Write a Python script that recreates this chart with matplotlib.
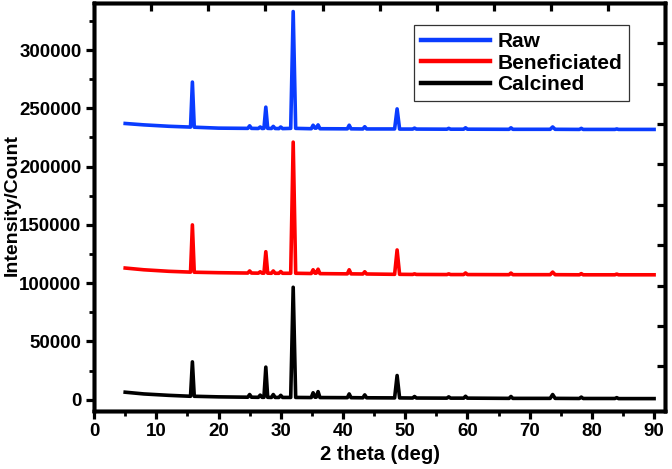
import matplotlib
matplotlib.use("Agg")
import matplotlib.pyplot as plt
from matplotlib.ticker import MultipleLocator, NullFormatter, FixedLocator
from matplotlib.legend_handler import HandlerLine2D

plt.rcParams['font.family'] = ['Liberation Sans', 'DejaVu Sans']
plt.rcParams['font.weight'] = 'bold'

two_theta = [5, 8, 12, 15.5, 15.8, 16.1, 20,
             24.7, 25.0, 25.3, 26.4, 26.7, 27.0, 27.3, 27.6, 27.9,
             28.5, 28.8, 29.1, 29.7, 30.0, 30.3, 31.6, 32.0, 32.4,
             34.9, 35.2, 35.5, 35.7, 36.0, 36.3, 40.7, 41.0, 41.3,
             43.2, 43.5, 43.8, 48.3, 48.7, 49.1, 51.2, 51.5, 51.8,
             56.7, 57.0, 57.3, 59.4, 59.7, 60.0, 66.7, 67.0, 67.3,
             73.3, 73.7, 74.1, 78.0, 78.3, 78.6, 83.7, 84.0, 84.3, 90]

raw = [237000, 235800, 234600, 233900, 272500, 233800, 233000,
       232800, 235000, 232800, 232700, 234000, 232700, 232800, 251000, 232800,
       232700, 234500, 232700, 232600, 234000, 232600, 232800, 333000, 232800,
       232500, 235500, 233000, 233000, 235800, 232500, 232400, 235500, 232400,
       232300, 234200, 232300, 232300, 249500, 232200, 232200, 233000, 232200,
       232100, 232800, 232100, 232100, 233300, 232100, 232000, 233300, 232000,
       232000, 234000, 232000, 231900, 232800, 231900, 231900, 232300, 231900, 231900]

beneficiated = [113000, 111500, 110200, 109500, 150000, 109400, 109000,
                108700, 110500, 108700, 108600, 109800, 108600, 108600, 127000, 108600,
                108500, 110500, 108500, 108500, 110000, 108500, 108500, 221000, 108500,
                108300, 111500, 108600, 108600, 112000, 108200, 108000, 111500, 108000,
                107900, 109800, 107900, 107600, 128500, 107600, 107500, 108000, 107500,
                107400, 108000, 107400, 107400, 108800, 107400, 107300, 108700, 107300,
                107300, 109500, 107300, 107200, 108200, 107200, 107200, 107800, 107200, 107200]

calcined = [6500, 5000, 3800, 3000, 32500, 3000, 2500,
            2200, 4500, 2200, 2100, 4000, 2100, 2100, 28000, 2100,
            2000, 4500, 2000, 2000, 3800, 2000, 2000, 96500, 2000,
            1900, 6000, 2200, 2200, 7000, 1900, 1800, 5000, 1800,
            1700, 4200, 1700, 1600, 20800, 1600, 1500, 2800, 1500,
            1400, 2500, 1400, 1400, 3000, 1400, 1200, 2800, 1200,
            1200, 4500, 1200, 1100, 2300, 1100, 1100, 1800, 1000, 1000]

series_labels = ["Raw", "Beneficiated", "Calcined"]
series_colors = ["#0a3cff", "#ff0000", "#000000"]


class ShiftedLine(HandlerLine2D):
    """Legend line that leaves blank space on its left, like Origin legends."""
    def create_artists(self, legend, orig_handle, xdescent, ydescent,
                       width, height, fontsize, trans):
        arts = super().create_artists(legend, orig_handle, xdescent, ydescent,
                                      width, height, fontsize, trans)
        for a in arts:
            xd = a.get_xdata()
            if len(xd) == 2:
                a.set_xdata([xd[0] + 0.33 * (xd[1] - xd[0]), xd[1]])
        return arts


fig = plt.figure(figsize=(6.72, 4.69), dpi=100)
ax = fig.add_axes([0.140, 0.124, 0.850, 0.870])

for ys, lab, col in zip([raw, beneficiated, calcined], series_labels, series_colors):
    ax.plot(two_theta, ys, color=col, lw=2.6, label=lab, solid_joinstyle='round')

ax.set_xlim(0, 91.8)
ax.set_ylim(-9500, 340500)
ax.xaxis.set_major_locator(MultipleLocator(10))
ax.xaxis.set_minor_locator(MultipleLocator(5))
ax.yaxis.set_major_locator(MultipleLocator(50000))
ax.yaxis.set_minor_locator(MultipleLocator(25000))
ax.tick_params(which='major', direction='out', length=6, width=2.3, labelsize=13.5, pad=3)
ax.tick_params(which='minor', direction='out', length=3.5, width=2.0)
for lbl in ax.get_xticklabels() + ax.get_yticklabels():
    lbl.set_fontweight('bold')
for sp in ax.spines.values():
    sp.set_linewidth(2.5)

ax.set_xlabel("2 theta (deg)", fontsize=14.5, fontweight='bold', labelpad=3)
ax.set_ylabel("Intensity/Count", fontsize=14, fontweight='bold')
ax.yaxis.set_label_coords(-0.128, 0.505)

# mirrored inward ticks on top and right
axt = ax.twiny()
axt.set_xlim(0, 100)
axt.xaxis.set_major_locator(FixedLocator([10, 20, 30, 40, 50, 60, 70, 80, 90]))
axt.xaxis.set_major_formatter(NullFormatter())
axt.tick_params(direction='in', length=6, width=2.3)
axr = ax.twinx()
axr.set_ylim(-0.1, 10)
axr.yaxis.set_major_locator(FixedLocator([1, 2, 3, 4, 5, 6, 7, 8, 9]))
axr.yaxis.set_major_formatter(NullFormatter())
axr.tick_params(direction='in', length=6, width=2.3)
for a in (axt, axr):
    for sp in a.spines.values():
        sp.set_linewidth(2.5)

handles, labels = ax.get_legend_handles_labels()
leg = axr.legend(handles, labels, loc='upper right', bbox_to_anchor=(0.937, 0.946),
                 bbox_transform=ax.transAxes, borderaxespad=0,
                 fancybox=False, framealpha=1, edgecolor='#333333',
                 prop={'weight': 'bold', 'size': 15}, handlelength=3.3,
                 handletextpad=0.35, labelspacing=0.12, borderpad=0.35,
                 handler_map={h: ShiftedLine() for h in handles})
leg.get_frame().set_linewidth(0.9)
for h in leg.get_lines():
    h.set_linewidth(3.2)

fig.savefig("out.png", dpi=100)
